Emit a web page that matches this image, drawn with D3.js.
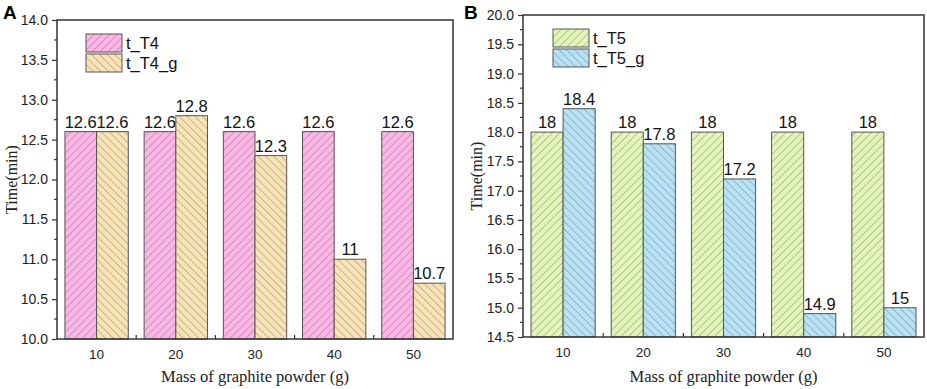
<!DOCTYPE html>
<html>
<head>
<meta charset="utf-8">
<script src="https://cdn.jsdelivr.net/npm/d3@7"></script>
<style>
  body { margin: 0; background: #fff; }
  svg { display: block; }
</style>
</head>
<body>
<svg width="927" height="389"></svg>
<script>
// данные
const categories = [10, 20, 30, 40, 50];
const tT4 = [12.6, 12.6, 12.6, 12.6, 12.6];
const tT4g = [12.6, 12.8, 12.3, 11, 10.7];
const tT5 = [18, 18, 18, 18, 18];
const tT5g = [18.4, 17.8, 17.2, 14.9, 15];
const ticksA = [10.0, 10.5, 11.0, 11.5, 12.0, 12.5, 13.0, 13.5, 14.0];
const ticksB = [14.5, 15.0, 15.5, 16.0, 16.5, 17.0, 17.5, 18.0, 18.5, 19.0, 19.5, 20.0];

const svg = d3.select("svg");
const defs = svg.append("defs");

// штриховка: "/" - rotate(45), "\" - rotate(-45)
function hatch(id, fill, angle) {
    const p = defs.append("pattern")
        .attr("id", id)
        .attr("patternUnits", "userSpaceOnUse")
        .attr("width", 5.5).attr("height", 5.5)
        .attr("patternTransform", `rotate(${angle})`);
    p.append("rect").attr("width", 5.5).attr("height", 5.5).attr("fill", fill);
    p.append("line")
        .attr("x1", 0).attr("y1", -1).attr("x2", 0).attr("y2", 7)
        .attr("stroke", "#707070").attr("stroke-width", 0.8);
}
hatch("pinkH", "#fdb4e6", 45);
hatch("tanH", "#f9e2b4", -45);
hatch("greenH", "#e2f5b6", 45);
hatch("blueH", "#b6e2f6", -45);

function drawPanel(cfg) {
    const g = svg.append("g");
    const {left, right, top, bottom} = cfg.box;

    const x = d3.scaleBand().domain(categories).range([left, right])
        .paddingInner(0.2).paddingOuter(0.1);
    const xs = d3.scaleBand().domain([0, 1]).range([0, x.bandwidth()]);
    const y = d3.scaleLinear().domain(cfg.domain).range([bottom, top]);

    // столбцы
    cfg.series.forEach((s, i) => {
        g.selectAll(null).data(s.values).enter().append("rect")
            .attr("x", (d, j) => x(categories[j]) + xs(i))
            .attr("y", d => y(d))
            .attr("width", xs.bandwidth())
            .attr("height", d => y(cfg.domain[0]) - y(d))
            .attr("fill", `url(#${s.pattern})`)
            .attr("stroke", "#555").attr("stroke-width", 1);

        g.selectAll(null).data(s.values).enter().append("text")
            .attr("x", (d, j) => x(categories[j]) + xs(i) + xs.bandwidth() / 2)
            .attr("y", d => y(d) - 4)
            .attr("text-anchor", "middle")
            .attr("font-family", "Liberation Sans, Arial, sans-serif")
            .attr("font-size", 16.5)
            .attr("fill", "#111")
            .text(d => String(d));
    });

    // рамка
    g.append("rect")
        .attr("x", left).attr("y", top)
        .attr("width", right - left).attr("height", bottom - top)
        .attr("fill", "none").attr("stroke", "#333").attr("stroke-width", 1.5);

    // ось Y
    const yAxis = d3.axisLeft(y).tickValues(cfg.ticks).tickFormat(d3.format(".1f"))
        .tickSize(5).tickPadding(4);
    const ya = g.append("g").attr("transform", `translate(${left},0)`).call(yAxis);
    ya.select(".domain").remove();
    ya.selectAll("line").attr("stroke", "#333").attr("stroke-width", 1.2);
    ya.selectAll("text").attr("font-family", "Liberation Sans, Arial, sans-serif")
        .attr("font-size", 14).attr("fill", "#222");
    // малые деления
    const minor = cfg.ticks.slice(0, -1).map(t => t + 0.25);
    g.selectAll(null).data(minor).enter().append("line")
        .attr("x1", left - 3).attr("x2", left)
        .attr("y1", d => y(d)).attr("y2", d => y(d))
        .attr("stroke", "#333").attr("stroke-width", 1.2);

    // ось X
    const xAxis = d3.axisBottom(x).tickSize(0).tickPadding(10);
    const xa = g.append("g").attr("transform", `translate(0,${bottom})`).call(xAxis);
    xa.select(".domain").remove();
    xa.selectAll("text").attr("font-family", "Liberation Sans, Arial, sans-serif")
        .attr("font-size", 13.5).attr("fill", "#222");
    // деления между группами, внутрь
    const between = categories.slice(1).map(c => x(c) - x.step() * x.paddingInner() / 2);
    g.selectAll(null).data(between).enter().append("line")
        .attr("x1", d => d).attr("x2", d => d)
        .attr("y1", bottom).attr("y2", bottom - 4)
        .attr("stroke", "#333").attr("stroke-width", 1.2);

    // подписи осей
    g.append("text")
        .attr("transform", `translate(${cfg.yLabelX},${(top + bottom) / 2}) rotate(-90)`)
        .attr("text-anchor", "middle")
        .attr("font-family", "Liberation Serif, Times New Roman, serif")
        .attr("font-size", 16).attr("fill", "#222")
        .text("Time(min)");
    g.append("text")
        .attr("x", (left + right) / 2).attr("y", 382)
        .attr("text-anchor", "middle")
        .attr("font-family", "Liberation Serif, Times New Roman, serif")
        .attr("font-size", 16.5).attr("fill", "#222")
        .text("Mass of graphite powder (g)");

    // буква панели
    g.append("text")
        .attr("x", cfg.letterX).attr("y", 19)
        .attr("font-family", "Liberation Sans, Arial, sans-serif")
        .attr("font-weight", "bold").attr("font-size", 19)
        .text(cfg.letter);

    // легенда
    const lg = g.append("g").attr("transform", `translate(${cfg.legend[0]},${cfg.legend[1]})`);
    cfg.series.forEach((s, i) => {
        lg.append("rect")
            .attr("x", 0).attr("y", i * 20)
            .attr("width", 36).attr("height", 18)
            .attr("fill", `url(#${s.pattern})`)
            .attr("stroke", "#555").attr("stroke-width", 1);
        lg.append("text")
            .attr("x", 40).attr("y", i * 20 + 15)
            .attr("font-family", "Liberation Sans, Arial, sans-serif")
            .attr("font-size", 16.5).attr("fill", "#111")
            .text(s.name);
    });
}

drawPanel({
    box: {left: 57, right: 453, top: 20, bottom: 339},
    domain: [10, 14],
    ticks: ticksA,
    series: [
        {name: "t_T4", values: tT4, pattern: "pinkH"},
        {name: "t_T4_g", values: tT4g, pattern: "tanH"}
    ],
    yLabelX: 17,
    letter: "A", letterX: 3,
    legend: [86, 34]
});

drawPanel({
    box: {left: 523, right: 924, top: 15, bottom: 337},
    domain: [14.5, 20],
    ticks: ticksB,
    series: [
        {name: "t_T5", values: tT5, pattern: "greenH"},
        {name: "t_T5_g", values: tT5g, pattern: "blueH"}
    ],
    yLabelX: 482,
    letter: "B", letterX: 464,
    legend: [553, 29]
});
</script>
</body>
</html>
